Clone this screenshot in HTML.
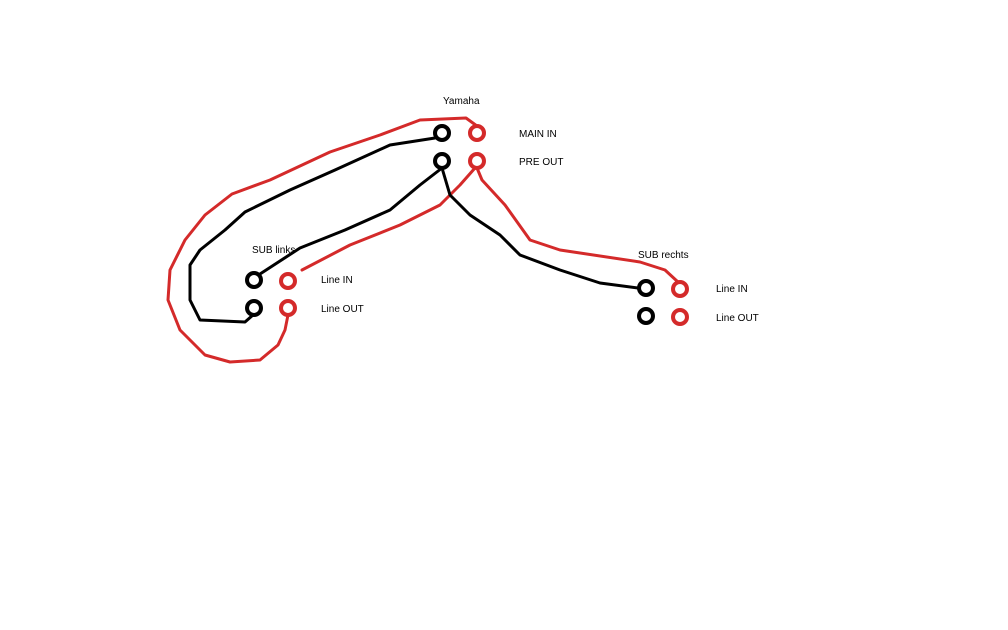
<!DOCTYPE html>
<html><head><style>
html,body{margin:0;padding:0;background:#fff;}
svg{display:block;}
text{font-family:"Liberation Sans",sans-serif;font-size:10px;fill:#000;}
</style></head><body>
<svg width="1008" height="630" viewBox="0 0 1008 630">
<g fill="none" stroke-width="3" stroke-linecap="round" stroke-linejoin="round">
<path stroke="#d42a2a" d="M477,126 L466,118 L420,120 L380,135 L330,152 L270,180 L232,194 L205,215 L185,240 L170,270 L168,300 L180,330 L205,355 L230,362 L260,360 L278,345 L285,330 L288,315"/>
<path stroke="#000" d="M435,138 L390,145 L335,170 L290,190 L245,212 L225,230 L200,250 L190,265 L190,300 L200,320 L245,322 L253,315"/>
<path stroke="#000" d="M442,168 L420,185 L390,210 L345,230 L300,248 L260,274"/>
<path stroke="#d42a2a" d="M475,168 L460,185 L440,205 L400,225 L350,245 L302,270"/>
<path stroke="#000" d="M442,168 L450,195 L470,215 L500,235 L520,255 L560,270 L600,283 L638,288"/>
<path stroke="#d42a2a" d="M477,168 L482,180 L505,205 L530,240 L560,250 L640,262 L665,270 L678,282"/>
</g>
<g fill="none" stroke-width="4">
<circle cx="442" cy="133" r="7" stroke="#000"/>
<circle cx="442" cy="161" r="7" stroke="#000"/>
<circle cx="477" cy="133" r="7" stroke="#d42a2a"/>
<circle cx="477" cy="161" r="7" stroke="#d42a2a"/>
<circle cx="254" cy="280" r="7" stroke="#000"/>
<circle cx="254" cy="308" r="7" stroke="#000"/>
<circle cx="288" cy="281" r="7" stroke="#d42a2a"/>
<circle cx="288" cy="308" r="7" stroke="#d42a2a"/>
<circle cx="646" cy="288" r="7" stroke="#000"/>
<circle cx="646" cy="316" r="7" stroke="#000"/>
<circle cx="680" cy="289" r="7" stroke="#d42a2a"/>
<circle cx="680" cy="317" r="7" stroke="#d42a2a"/>
</g>
<text x="443" y="104">Yamaha</text>
<text x="519" y="137">MAIN IN</text>
<text x="519" y="165">PRE OUT</text>
<text x="252" y="253">SUB links</text>
<text x="321" y="283">Line IN</text>
<text x="321" y="312">Line OUT</text>
<text x="638" y="258">SUB rechts</text>
<text x="716" y="292">Line IN</text>
<text x="716" y="321">Line OUT</text>
</svg>
</body></html>
